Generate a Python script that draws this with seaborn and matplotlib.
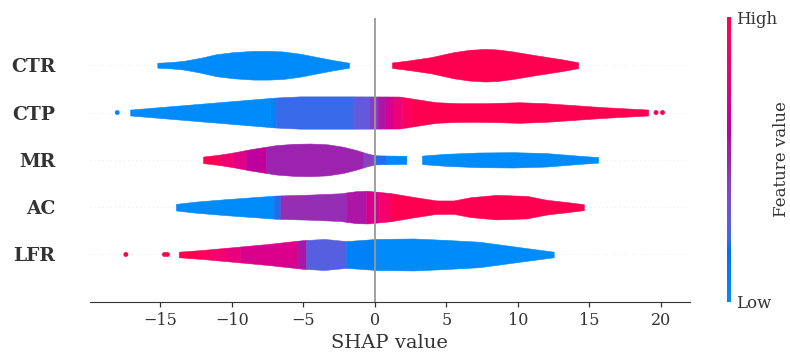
import numpy as np
import matplotlib
matplotlib.use("Agg")
import matplotlib.pyplot as plt
import seaborn as sns

# ---------------------
# Data
# ---------------------

features = ["CTR", "CTP", "MR", "AC", "LFR"]

# violin outline: SHAP value and relative density (1 = widest)
outline_x = {
    "CTR": [-15.2, -14.3, -13.4, -12.2, -11.1, -9.9, -8.5, -7.4, -6.4, -5.2,
            -4.1, -2.9, -1.8,
            1.2, 1.8, 2.5, 3.9, 5.5, 6.6, 7.7, 8.6, 9.5, 11.3, 13.0, 14.2],
    "CTP": [-17.1, -12.0, -6.9, -5.2, -1.7, 1.7, 2.45, 3.15, 4.3, 5.9,
            7.7, 10.1, 11.9, 13.6, 15.9, 19.1],
    "MR": [-12.0, -10.9, -9.9, -8.7, -6.9, -5.7, -4.5, -3.3, -2.2, -1.3,
           -0.6, 0.0, 1.0, 2.2,
           3.3, 5.0, 7.3, 9.7, 12.0, 14.3, 15.6],
    "AC": [-13.9, -12.5, -10.4, -8.5, -6.9, -4.5, -2.4, -1.3, -0.5, 1.1,
           2.8, 4.3, 5.5, 6.7, 8.5, 10.6, 12.0, 13.6, 14.6],
    "LFR": [-13.7, -12.0, -10.1, -7.5, -5.0, -3.5, -2.0, 0.1, 2.7, 5.0,
            7.3, 10.0, 12.5],
}
outline_d = {
    "CTR": [0.15, 0.19, 0.26, 0.45, 0.67, 0.80, 0.88, 0.88, 0.84, 0.70,
            0.51, 0.31, 0.15,
            0.17, 0.23, 0.31, 0.49, 0.80, 0.94, 1.00, 0.96, 0.86, 0.60, 0.37, 0.18],
    "CTP": [0.18, 0.55, 0.92, 0.99, 0.99, 0.98, 0.88, 0.78, 0.63, 0.57,
            0.57, 0.63, 0.57, 0.47, 0.33, 0.18],
    "MR": [0.20, 0.31, 0.45, 0.65, 0.90, 0.98, 1.00, 0.95, 0.80, 0.60,
           0.41, 0.28, 0.26, 0.25,
           0.26, 0.37, 0.45, 0.47, 0.41, 0.25, 0.17],
    "AC": [0.20, 0.34, 0.49, 0.61, 0.71, 0.77, 0.85, 0.98, 1.00, 0.86,
           0.61, 0.41, 0.41, 0.61, 0.75, 0.69, 0.45, 0.29, 0.18],
    "LFR": [0.17, 0.28, 0.43, 0.64, 0.88, 0.95, 0.82, 0.95, 0.98, 0.89,
            0.78, 0.46, 0.17],
}

# colour bands: (from, to, feature value 0=low 1=high)
bands = {
    "CTR": [(-15.2, -1.8, 0.0), (1.2, 14.2, 1.0)],
    "CTP": [(-17.1, -7.3, 0.0), (-7.3, -6.9, 0.06), (-6.9, -1.5, 0.22),
            (-1.5, -0.4, 0.3), (-0.4, 0.2, 0.42), (0.2, 0.7, 0.55),
            (0.7, 1.3, 0.7), (1.3, 1.9, 0.82), (1.9, 2.5, 0.92),
            (2.5, 19.1, 1.0)],
    "MR": [(-12.0, -10.8, 1.0), (-10.8, -9.9, 0.85), (-9.9, -9.0, 0.75),
           (-9.0, -7.6, 0.62), (-7.6, -0.8, 0.5), (-0.8, -0.1, 0.4),
           (-0.1, 0.8, 0.2), (0.8, 2.2, 0.03), (3.3, 15.6, 0.0)],
    "AC": [(-13.9, -7.05, 0.0), (-7.05, -6.6, 0.2), (-6.6, -2.0, 0.47),
           (-2.0, -0.6, 0.55), (-0.6, 0.3, 0.72), (0.3, 1.1, 0.88),
           (1.1, 14.6, 1.0)],
    "LFR": [(-13.7, -12.3, 1.0), (-12.3, -11.5, 0.93), (-11.5, -10.5, 0.87),
            (-10.5, -9.4, 0.8), (-9.4, -5.4, 0.72), (-5.4, -4.8, 0.55),
            (-4.8, -2.0, 0.27), (-2.0, 0.1, 0.07), (0.1, 12.5, 0.0)],
}

# single outlying points: (SHAP value, feature value)
points = {
    "CTP": [(-18.0, 0.0), (19.65, 1.0), (20.1, 1.0)],
    "LFR": [(-17.4, 1.0), (-14.7, 1.0), (-14.5, 1.0)],
}

# ---------------------
# Style
# ---------------------

sns.set_style("ticks")
plt.rcParams["font.family"] = "DejaVu Serif"


# shap style red-blue colormap (Lch path, darker in the middle)
def lch2rgb(l, c, h):
    a = c * np.cos(h)
    b = c * np.sin(h)
    fy = (l + 16) / 116
    fx = a / 500 + fy
    fz = fy - b / 200
    t = np.array([fx, fy, fz])
    xyz = np.where(t ** 3 > 0.008856, t ** 3, (t - 16 / 116) / 7.787)
    xyz = xyz * np.array([0.95047, 1.0, 1.08883])
    m = np.array([[3.2406, -1.5372, -0.4986],
                  [-0.9689, 1.8758, 0.0415],
                  [0.0557, -0.2040, 1.0570]])
    rgb = m @ xyz
    rgb = np.where(rgb > 0.0031308,
                   1.055 * np.abs(rgb) ** (1 / 2.4) - 0.055,
                   12.92 * rgb)
    return tuple(np.clip(rgb, 0, 1))


steps = 100
l_vals = np.r_[np.linspace(54, 40, steps // 2), np.linspace(40, 54, steps // 2)]
c_vals = np.linspace(70, 90, steps)
h_vals = np.linspace(4.6588, 0.35470565 + 2 * np.pi, steps)
red_blue = sns.blend_palette(
    [lch2rgb(l, c, h) for l, c, h in zip(l_vals, c_vals, h_vals)],
    n_colors=256,
    as_cmap=True
)

# ---------------------
# Plot
# ---------------------

fig = plt.figure(figsize=(7.9, 3.58), dpi=100)
ax = fig.add_axes([0.114, 0.157, 0.759, 0.793])

half = 0.345

for i, name in enumerate(features):
    y = len(features) - 1 - i
    ax.axhline(y, color="#cccccc", lw=0.5, dashes=(1, 5), zorder=0)

    xs = np.array(outline_x[name])
    ds = np.array(outline_d[name]) * half

    for lo, hi, val in bands[name]:
        seg = np.r_[lo, xs[(xs > lo) & (xs < hi)], hi]
        w = np.interp(seg, xs, ds)
        col = red_blue(val)
        ax.fill_between(seg, y - w, y + w, facecolor=col,
                        edgecolor=col, lw=0.4, zorder=2)

    if name in points:
        px = [p[0] for p in points[name]]
        pc = [red_blue(p[1]) for p in points[name]]
        ax.scatter(px, [y] * len(px), c=pc, s=12, lw=0, zorder=3)

ax.axvline(0, color="#999999", lw=1.3, zorder=4)

ax.set_xlim(-19.9, 22.0)
ax.set_ylim(-1, 5)

ax.set_yticks(range(len(features)))
ax.set_yticklabels(features[::-1], fontsize=13.5,
                   fontweight="bold", color="#333333")
ax.tick_params(axis="y", length=0, pad=25)

ax.set_xticks([-15, -10, -5, 0, 5, 10, 15, 20])
ax.tick_params(axis="x", labelsize=11.5, colors="#333333",
               length=3.5, width=0.9)

sns.despine(ax=ax, left=True)
ax.spines["bottom"].set_color("#333333")
ax.set_xlabel("SHAP value", fontsize=14, color="#333333")

# colour bar
cax = fig.add_axes([0.920, 0.157, 0.005, 0.795])
sm = matplotlib.cm.ScalarMappable(cmap=red_blue, norm=plt.Normalize(0, 1))
cb = fig.colorbar(sm, cax=cax, ticks=[0, 1])
cb.set_ticklabels(["Low", "High"])
cb.ax.tick_params(labelsize=12, length=0, colors="#333333")
cb.outline.set_visible(False)
cb.set_label("Feature value", size=12, labelpad=-3, color="#333333")

plt.savefig("out.png", dpi=100)
